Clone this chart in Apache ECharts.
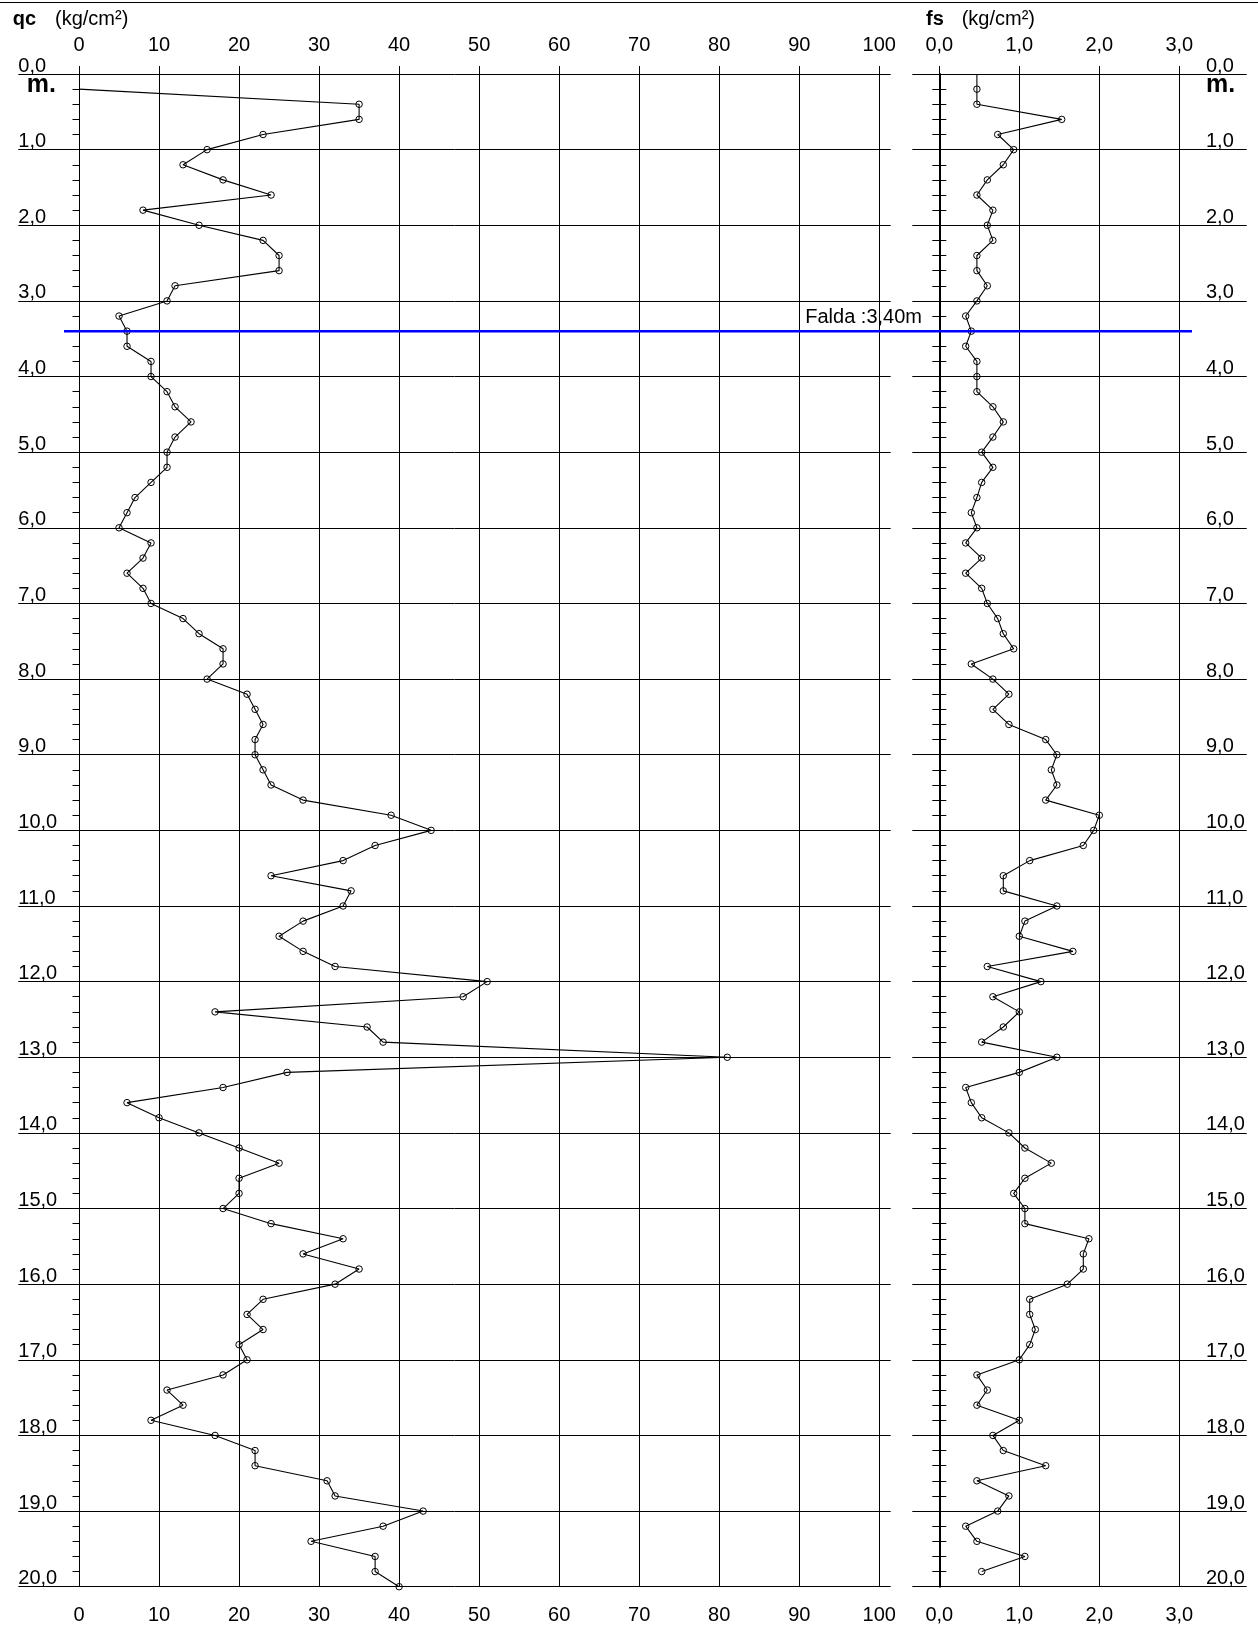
<!DOCTYPE html>
<html>
<head>
<meta charset="utf-8">
<script src="https://cdn.jsdelivr.net/npm/echarts@6/dist/echarts.min.js"></script>
<style>
  html, body { margin: 0; padding: 0; background: #fff; }
  #chart { width: 1258px; height: 1627px; }
</style>
</head>
<body>
<div id="chart"></div>
<script>
// depth (m) of every reading, 0,0 .. 20,0
const depths = [
  0.0,
  0.2, 0.4, 0.6, 0.8, 1.0,   1.2, 1.4, 1.6, 1.8, 2.0,
  2.2, 2.4, 2.6, 2.8, 3.0,   3.2, 3.4, 3.6, 3.8, 4.0,
  4.2, 4.4, 4.6, 4.8, 5.0,   5.2, 5.4, 5.6, 5.8, 6.0,
  6.2, 6.4, 6.6, 6.8, 7.0,   7.2, 7.4, 7.6, 7.8, 8.0,
  8.2, 8.4, 8.6, 8.8, 9.0,   9.2, 9.4, 9.6, 9.8, 10.0,
  10.2, 10.4, 10.6, 10.8, 11.0,   11.2, 11.4, 11.6, 11.8, 12.0,
  12.2, 12.4, 12.6, 12.8, 13.0,   13.2, 13.4, 13.6, 13.8, 14.0,
  14.2, 14.4, 14.6, 14.8, 15.0,   15.2, 15.4, 15.6, 15.8, 16.0,
  16.2, 16.4, 16.6, 16.8, 17.0,   17.2, 17.4, 17.6, 17.8, 18.0,
  18.2, 18.4, 18.6, 18.8, 19.0,   19.2, 19.4, 19.6, 19.8, 20.0
];

// cone resistance qc (kg/cm²)
const qcValues = [
  null,
  0, 35, 35, 23, 16,   13, 18, 24, 8, 15,
  23, 25, 25, 12, 11,   5, 6, 6, 9, 9,
  11, 12, 14, 12, 11,   11, 9, 7, 6, 5,
  9, 8, 6, 8, 9,   13, 15, 18, 18, 16,
  21, 22, 23, 22, 22,   23, 24, 28, 39, 44,
  37, 33, 24, 34, 33,   28, 25, 28, 32, 51,
  48, 17, 36, 38, 81,   26, 18, 6, 10, 15,
  20, 25, 20, 20, 18,   24, 33, 28, 35, 32,
  23, 21, 23, 20, 21,   18, 11, 13, 9, 17,
  22, 22, 31, 32, 43,   38, 29, 37, 37, 40
];

// sleeve friction fs (kg/cm²)
const fsValues = [
  0.47,
  0.47, 0.47, 1.53, 0.73, 0.93,   0.8, 0.6, 0.47, 0.67, 0.6,
  0.67, 0.47, 0.47, 0.6, 0.47,   0.33, 0.4, 0.33, 0.47, 0.47,
  0.47, 0.67, 0.8, 0.67, 0.53,   0.67, 0.53, 0.47, 0.4, 0.47,
  0.33, 0.53, 0.33, 0.53, 0.6,   0.73, 0.8, 0.93, 0.4, 0.67,
  0.87, 0.67, 0.87, 1.33, 1.47,   1.4, 1.47, 1.33, 2.0, 1.93,
  1.8, 1.13, 0.8, 0.8, 1.47,   1.07, 1.0, 1.67, 0.6, 1.27,
  0.67, 1.0, 0.8, 0.53, 1.47,   1.0, 0.33, 0.4, 0.53, 0.87,
  1.07, 1.4, 1.07, 0.93, 1.07,   1.07, 1.87, 1.8, 1.8, 1.6,
  1.13, 1.13, 1.2, 1.13, 1.0,   0.47, 0.6, 0.47, 1.0, 0.67,
  0.8, 1.33, 0.47, 0.87, 0.73,   0.33, 0.47, 1.07, 0.53, null
];

const qcTickLabels = ['0', '10', '20', '30', '40', '50', '60', '70', '80', '90', '100'];
const fsTickLabels = ['0,0', '1,0', '2,0', '3,0'];
const waterTable = 3.4;
const waterLabel = 'Falda :3,40m';

const FONT = '"Liberation Sans", Arial, sans-serif';
const BLACK = '#000';

// build [x, depth] pairs, first reading of each log drawn without a marker
function toPoints(values) {
  const pts = [];
  values.forEach((v, i) => {
    if (v === null) return;
    const item = { value: [v, depths[i]] };
    if (pts.length === 0) item.symbol = 'none';
    pts.push(item);
  });
  return pts;
}

const fmtDepth = v => v.toFixed(1).replace('.', ',');

const chart = echarts.init(document.getElementById('chart'), null, { renderer: 'canvas' });

const gridTop = 74, gridH = 1512.7;
const depthAxis = { type: 'value', min: 0, max: 20, interval: 1, inverse: true };

// small ticks every 0,2 m along a log's edge
function tickAxis(gridIndex, position, len, lineWidth) {
  return Object.assign({}, depthAxis, {
    gridIndex: gridIndex, position: position, interval: 0.2,
    axisLine: { show: lineWidth > 0, lineStyle: { color: BLACK, width: lineWidth } },
    axisTick: { show: true, length: len, lineStyle: { color: BLACK, width: 1 } },
    axisLabel: { show: false },
    splitLine: { show: false }
  });
}

const option = {
  animation: false,
  backgroundColor: '#fff',
  textStyle: { fontFamily: FONT },
  grid: [
    { left: 79, top: gridTop, width: 800.3, height: gridH, outerBoundsMode: 'none' },     // qc
    { left: 18.3, top: gridTop, width: 872.4, height: gridH, outerBoundsMode: 'none' },   // left depth rows
    { left: 939.3, top: gridTop, width: 240, height: gridH, outerBoundsMode: 'none' },    // fs
    { left: 912.3, top: gridTop, width: 334.4, height: gridH, outerBoundsMode: 'none' },  // right depth rows
    { left: 64, top: gridTop, width: 1128, height: gridH, outerBoundsMode: 'none' }       // water table
  ],
  xAxis: [
    {
      gridIndex: 0, type: 'value', position: 'top', min: 0, max: 100, interval: 10,
      axisLine: { show: false },
      axisTick: { show: true, length: 8, lineStyle: { color: BLACK, width: 1 } },
      axisLabel: { fontSize: 20, color: BLACK, margin: 19, fontFamily: FONT,
        formatter: (v, i) => qcTickLabels[i] },
      splitLine: { show: true, lineStyle: { color: BLACK, width: 1 } }
    },
    {
      gridIndex: 0, type: 'value', position: 'bottom', min: 0, max: 100, interval: 10,
      axisLine: { show: false }, axisTick: { show: false }, splitLine: { show: false },
      axisLabel: { fontSize: 20, color: BLACK, margin: 19, fontFamily: FONT,
        formatter: (v, i) => qcTickLabels[i] }
    },
    { gridIndex: 1, type: 'value', min: 0, max: 1, show: false },
    {
      gridIndex: 2, type: 'value', position: 'top', min: 0, max: 3, interval: 1,
      axisLine: { show: false },
      axisTick: { show: true, length: 8, lineStyle: { color: BLACK, width: 1 } },
      axisLabel: { fontSize: 20, color: BLACK, margin: 19, fontFamily: FONT,
        formatter: (v, i) => fsTickLabels[i] },
      splitLine: { show: true, lineStyle: { color: BLACK, width: 1 } }
    },
    {
      gridIndex: 2, type: 'value', position: 'bottom', min: 0, max: 3, interval: 1,
      axisLine: { show: false }, axisTick: { show: false }, splitLine: { show: false },
      axisLabel: { fontSize: 20, color: BLACK, margin: 19, fontFamily: FONT,
        formatter: (v, i) => fsTickLabels[i] }
    },
    { gridIndex: 3, type: 'value', min: 0, max: 1, show: false },
    { gridIndex: 4, type: 'value', min: 0, max: 1, show: false }
  ],
  yAxis: [
    tickAxis(0, 'left', 6.5, 0),
    Object.assign({}, depthAxis, {
      gridIndex: 1, position: 'left',
      axisLine: { show: false }, axisTick: { show: false },
      axisLabel: { show: true, align: 'left', verticalAlign: 'bottom', lineHeight: 16,
        margin: 0, fontSize: 20, color: BLACK, fontFamily: FONT, formatter: fmtDepth },
      splitLine: { show: true, lineStyle: { color: BLACK, width: 1 } }
    }),
    tickAxis(2, 'left', 7, 2),
    tickAxis(2, 'right', 7, 0),
    Object.assign({}, depthAxis, {
      gridIndex: 3, position: 'right',
      axisLine: { show: false }, axisTick: { show: false },
      axisLabel: { show: true, inside: true, align: 'left', verticalAlign: 'bottom', lineHeight: 16,
        margin: 40.7, fontSize: 20, color: BLACK, fontFamily: FONT, formatter: fmtDepth },
      splitLine: { show: true, lineStyle: { color: BLACK, width: 1 } }
    }),
    Object.assign({}, depthAxis, { gridIndex: 4, show: false })
  ],
  series: [
    {
      name: 'qc', type: 'line', xAxisIndex: 0, yAxisIndex: 0,
      data: toPoints(qcValues),
      symbol: 'circle', symbolSize: 6.5, showSymbol: true, showAllSymbol: true,
      lineStyle: { color: BLACK, width: 1.1 },
      itemStyle: { color: 'rgba(255,255,255,0)', borderColor: BLACK, borderWidth: 1 },
      emphasis: { disabled: true }, z: 3
    },
    {
      name: 'fs', type: 'line', xAxisIndex: 3, yAxisIndex: 2,
      data: toPoints(fsValues),
      symbol: 'circle', symbolSize: 6.5, showSymbol: true, showAllSymbol: true,
      lineStyle: { color: BLACK, width: 1.1 },
      itemStyle: { color: 'rgba(255,255,255,0)', borderColor: BLACK, borderWidth: 1 },
      emphasis: { disabled: true }, z: 3
    },
    {
      name: 'falda', type: 'line', xAxisIndex: 6, yAxisIndex: 5,
      data: [[0, waterTable], [1, waterTable]],
      symbol: 'none',
      lineStyle: { color: '#0000ff', width: 2.5 },
      emphasis: { disabled: true }, z: 4
    }
  ]
};

chart.setOption(option);

const waterY = chart.convertToPixel({ gridIndex: 4 }, [0, waterTable])[1];

chart.setOption({
  graphic: [
    { type: 'line', shape: { x1: 0, y1: 2.5, x2: 1258, y2: 2.5 }, style: { stroke: BLACK, lineWidth: 1.2 } },
    { type: 'text', style: { x: 12.7, y: 19.5, text: 'qc', font: 'bold 20px ' + FONT, fill: BLACK, verticalAlign: 'middle' } },
    { type: 'text', style: { x: 55, y: 19.5, text: '(kg/cm²)', font: '20px ' + FONT, fill: BLACK, verticalAlign: 'middle' } },
    { type: 'text', style: { x: 926, y: 19.5, text: 'fs', font: 'bold 20px ' + FONT, fill: BLACK, verticalAlign: 'middle' } },
    { type: 'text', style: { x: 961.7, y: 19.5, text: '(kg/cm²)', font: '20px ' + FONT, fill: BLACK, verticalAlign: 'middle' } },
    { type: 'text', style: { x: 26.7, y: 85, text: 'm.', font: 'bold 25px ' + FONT, fill: BLACK, verticalAlign: 'middle' } },
    { type: 'text', style: { x: 1206, y: 85, text: 'm.', font: 'bold 25px ' + FONT, fill: BLACK, verticalAlign: 'middle' } },
    { type: 'text', z: 10, style: { x: 922, y: waterY - 4, text: waterLabel, font: '20px ' + FONT, fill: BLACK,
      align: 'right', verticalAlign: 'bottom' } }
  ]
});
</script>
</body>
</html>
